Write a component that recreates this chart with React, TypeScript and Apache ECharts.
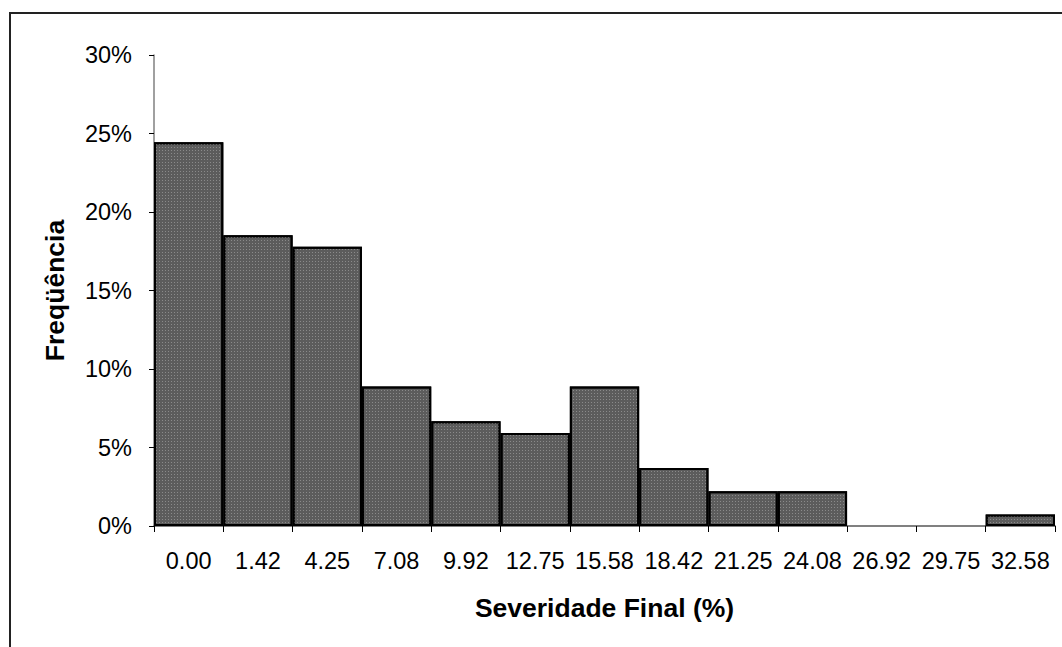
import React, { useEffect, useRef } from "react";
import * as echarts from "echarts";

const categories = ["0.00", "1.42", "4.25", "7.08", "9.92", "12.75", "15.58", "18.42", "21.25", "24.08", "26.92", "29.75", "32.58"];
const frequencies = [24.44, 18.52, 17.78, 8.89, 6.67, 5.93, 8.89, 3.7, 2.22, 2.22, 0, 0, 0.74];
const yTicks = { min: 0, max: 30, interval: 5 };
const xTitle = "Severidade Final (%)";
const yTitle = "Freqüência";

const FONT = 'Arial, "Liberation Sans", sans-serif';

export default function App() {
  const ref = useRef<HTMLDivElement>(null);
  useEffect(() => {
    if (!ref.current) return;
    const chart = echarts.init(ref.current, null, { renderer: "svg" });
    chart.setOption({
      animation: false,
      backgroundColor: "#ffffff",
      textStyle: { fontFamily: FONT },
      grid: { left: 154, right: 7, top: 55, bottom: 121, containLabel: false },
      graphic: [
        {
          type: "polyline",
          shape: { points: [[10, 700], [10, 13], [1100, 13]] },
          style: { stroke: "#222222", lineWidth: 2, fill: "none" },
          z: 100,
        },
      ],
      xAxis: {
        type: "category",
        data: categories,
        boundaryGap: true,
        name: xTitle,
        nameLocation: "middle",
        nameGap: 68,
        nameTextStyle: { fontFamily: FONT, fontSize: 26.5, fontWeight: "bold", color: "#000" },
        axisLine: { show: true, lineStyle: { color: "#808080", width: 2 } },
        axisTick: { show: true, length: 6, alignWithLabel: false, lineStyle: { color: "#000", width: 1 } },
        axisLabel: { fontFamily: FONT, fontSize: 23.5, color: "#000", margin: 23, interval: 0 },
        splitLine: { show: false },
      },
      yAxis: {
        type: "value",
        min: yTicks.min,
        max: yTicks.max,
        interval: yTicks.interval,
        name: yTitle,
        nameLocation: "middle",
        nameGap: 86,
        nameRotate: 90,
        nameTextStyle: { fontFamily: FONT, fontSize: 26.5, fontWeight: "bold", color: "#000" },
        axisLine: { show: true, lineStyle: { color: "#808080", width: 1.5 } },
        axisTick: { show: true, length: 5, lineStyle: { color: "#000", width: 1 } },
        axisLabel: { fontFamily: FONT, fontSize: 23.5, color: "#000", margin: 22, formatter: "{value}%" },
        splitLine: { show: false },
      },
      series: [
        {
          type: "bar",
          data: frequencies.map((v) => (v === 0 ? { value: v, itemStyle: { borderWidth: 0 } } : v)),
          barCategoryGap: "0%",
          itemStyle: {
            color: "#5c5c5c",
            borderColor: "#000000",
            borderWidth: 2,
            decal: {
              symbol: "rect",
              symbolSize: 1,
              dashArrayX: [1, 2],
              dashArrayY: [1, 2],
              color: "rgba(150,150,150,0.8)",
              rotation: 0,
            },
          },
        },
      ],
    });
    return () => chart.dispose();
  }, []);
  return (
    <div
      ref={ref}
      style={{ position: "fixed", left: 0, top: 0, width: 1062, height: 647, background: "#fff" }}
    />
  );
}
